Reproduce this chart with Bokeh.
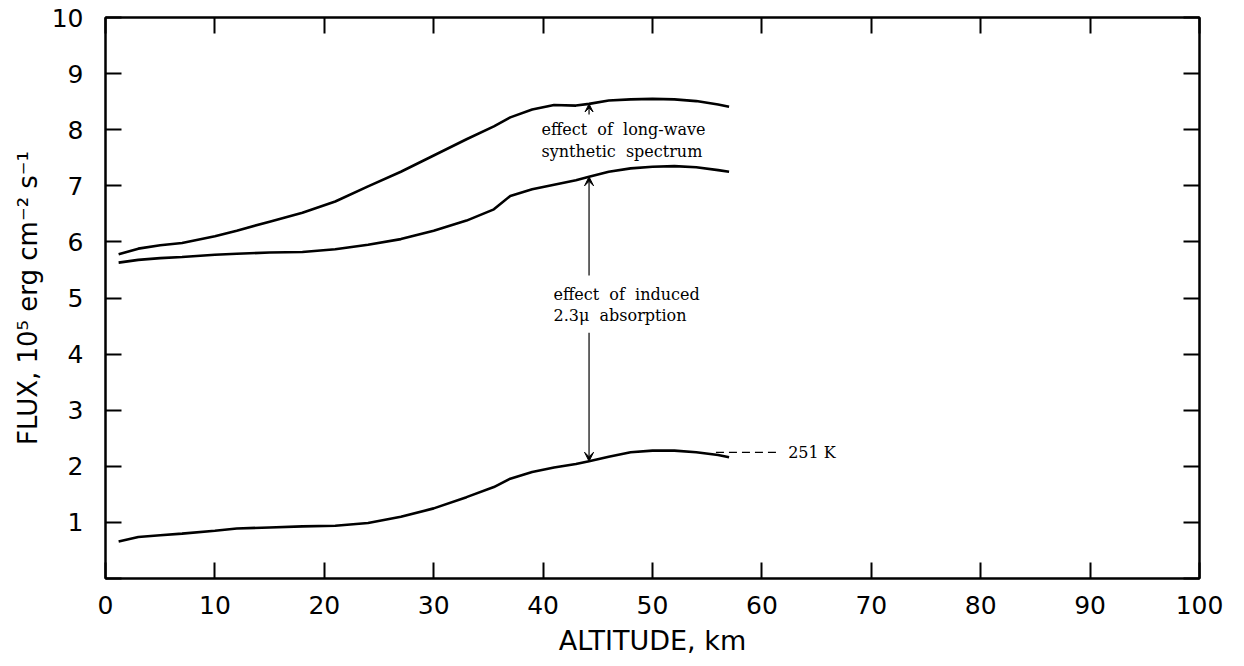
from bokeh.plotting import figure
from bokeh.models import Range1d, FixedTicker, LinearAxis, Arrow, VeeHead, Label
from bokeh.embed import file_html
from bokeh.resources import INLINE

# Altitude grid (km) and upward flux (10^5 erg cm^-2 s^-1) for the three cases
altitude_km = [1.2, 3, 5, 7, 10, 12, 15, 18, 21, 24, 27, 30, 33, 35.5, 37, 39,
               41, 43, 44.2, 46, 48, 50, 52, 54, 56, 57]
flux_long_wave = [5.78, 5.88, 5.94, 5.98, 6.10, 6.20, 6.36, 6.52, 6.72, 6.99, 7.25,
                  7.54, 7.83, 8.06, 8.22, 8.36, 8.44, 8.43, 8.46, 8.52, 8.54, 8.55,
                  8.54, 8.51, 8.45, 8.41]
flux_synthetic = [5.63, 5.68, 5.71, 5.73, 5.77, 5.79, 5.81, 5.82, 5.87, 5.95, 6.05,
                  6.20, 6.38, 6.58, 6.82, 6.94, 7.02, 7.10, 7.16, 7.25, 7.31, 7.34,
                  7.35, 7.33, 7.28, 7.25]
flux_induced = [0.66, 0.74, 0.77, 0.80, 0.85, 0.89, 0.91, 0.93, 0.94, 0.99, 1.10,
                1.25, 1.45, 1.63, 1.78, 1.90, 1.98, 2.04, 2.09, 2.17, 2.25, 2.28,
                2.28, 2.25, 2.20, 2.16]

x_ticks = [0, 10, 20, 30, 40, 50, 60, 70, 80, 90, 100]
y_ticks = [0, 1, 2, 3, 4, 5, 6, 7, 8, 9, 10]

TICK_FONT = "DejaVu Sans"
NOTE_FONT = "DejaVu Serif"
NB = "\u00a0"

p = figure(width=1244, height=666, output_backend="svg", toolbar_location=None,
           x_range=Range1d(0, 100), y_range=Range1d(0, 10),
           min_border_left=105, min_border_right=45, min_border_top=17,
           min_border_bottom=88)
p.xgrid.visible = False
p.ygrid.visible = False
p.outline_line_color = "black"
p.outline_line_width = 2
p.background_fill_color = "white"
p.border_fill_color = "white"

xa = p.below[0]
ya = p.left[0]

# extra tick-only axes on top and right
top_axis = LinearAxis(ticker=FixedTicker(ticks=x_ticks),
                      major_label_overrides={t: "" for t in x_ticks})
right_axis = LinearAxis(ticker=FixedTicker(ticks=y_ticks),
                        major_label_overrides={t: "" for t in y_ticks})
p.add_layout(top_axis, "above")
p.add_layout(right_axis, "right")

xa.ticker = FixedTicker(ticks=x_ticks)
ya.ticker = FixedTicker(ticks=y_ticks)

for ax in [xa, ya, top_axis, right_axis]:
    ax.axis_line_width = 2
    ax.axis_line_color = "black"
    ax.major_tick_in = 16
    ax.major_tick_out = 0
    ax.major_tick_line_width = 2
    ax.major_tick_line_color = "black"
    ax.minor_tick_in = 0
    ax.minor_tick_out = 0
    ax.minor_tick_line_color = None

for ax in [top_axis, right_axis]:
    ax.major_label_standoff = 0
    ax.major_label_text_font_size = "1px"

xa.axis_label = "ALTITUDE, km"
xa.major_label_text_font = TICK_FONT
xa.major_label_text_font_size = "25px"
xa.major_label_text_color = "black"
xa.major_label_standoff = 17
xa.axis_label_text_font = TICK_FONT
xa.axis_label_text_font_size = "27px"
xa.axis_label_text_font_style = "normal"
xa.axis_label_text_color = "black"
xa.axis_label_standoff = 8

ya.axis_label = "FLUX, 10\u2075 erg cm\u207b\u00b2 s\u207b\u00b9"
ya.major_label_overrides = {0: ""}
ya.major_label_text_font = TICK_FONT
ya.major_label_text_font_size = "25px"
ya.major_label_text_color = "black"
ya.major_label_standoff = 22
ya.axis_label_text_font = TICK_FONT
ya.axis_label_text_font_size = "26px"
ya.axis_label_text_font_style = "normal"
ya.axis_label_text_color = "black"
ya.axis_label_standoff = 6

# flux curves
for series in [flux_long_wave, flux_synthetic, flux_induced]:
    p.line(altitude_km, series, line_color="black", line_width=2.6)

# arrows marking the two effects
def arrow(y0, y1, size):
    p.add_layout(Arrow(end=VeeHead(size=size, fill_color="black",
                                   line_color="black", line_width=1),
                       x_start=44.2, y_start=y0, x_end=44.2, y_end=y1,
                       line_color="black", line_width=1.2))

arrow(8.27, 8.46, 8)
arrow(5.40, 7.16, 9)
arrow(4.38, 2.09, 9)

# leader line for the temperature label
p.line([55.8, 61.5], [2.25, 2.25], line_color="black", line_width=1.2,
       line_dash="8 5")

notes = [
    (39.85, 8.00, f"effect {NB}of {NB}long-wave"),
    (39.85, 7.62, f"synthetic {NB}spectrum"),
    (40.95, 5.07, f"effect {NB}of {NB}induced"),
    (40.95, 4.69, f"2.3\u03bc {NB}absorption"),
    (62.4, 2.25, "251 K"),
]
for nx, ny, txt in notes:
    p.add_layout(Label(x=nx, y=ny, text=txt, text_font=NOTE_FONT,
                       text_font_size="16px", text_align="left",
                       text_baseline="middle", text_color="black"))

open("out.html", "w").write(file_html(p, INLINE))
